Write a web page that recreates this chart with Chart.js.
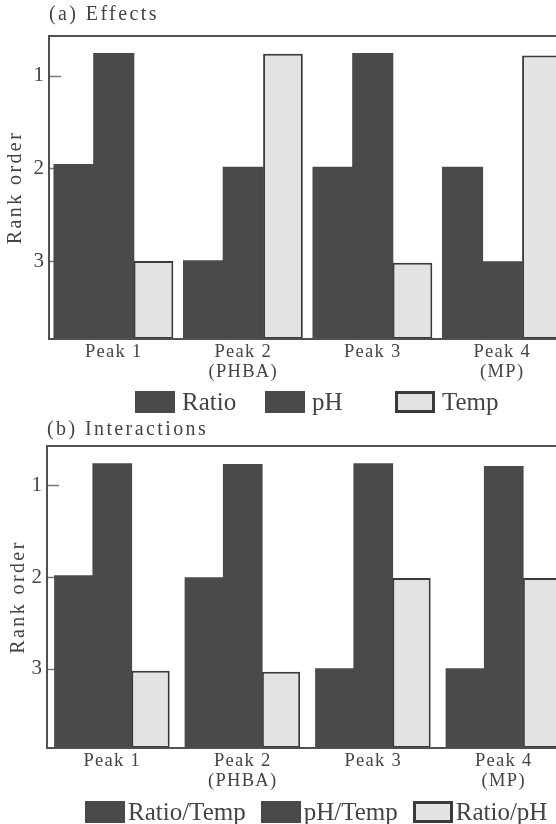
<!DOCTYPE html>
<html>
<head>
<meta charset="utf-8">
<script src="https://cdn.jsdelivr.net/npm/chart.js@4"></script>
<style>
  html, body { margin: 0; padding: 0; background: #fff; width: 556px; height: 824px; overflow: hidden; }
  .panel { position: absolute; left: 0; width: 600px; height: 412px; }
  #panelA { top: 0; }
  #panelB { top: 412px; }
  .panel canvas { position: absolute; left: 0; top: 0; }
  .legend { position: absolute; display: flex; align-items: center; white-space: nowrap;
            font-family: "Liberation Serif", "DejaVu Serif", serif; font-size: 25px; color: #444444; }
  .legend .item { display: flex; align-items: center; }
  .legend .swatch { width: 40px; height: 22px; box-sizing: border-box; flex: none; }
</style>
</head>
<body>
<div class="panel" id="panelA">
  <canvas id="chartA" width="600" height="412"></canvas>
  <div class="legend" id="legendA" style="left:135px; top:388px;"></div>
</div>
<div class="panel" id="panelB">
  <canvas id="chartB" width="600" height="412"></canvas>
  <div class="legend" id="legendB" style="left:85px; top:386px;"></div>
</div>
<script>
// ---- data ----
const peaks = ['Peak 1', ['Peak 2', '(PHBA)'], 'Peak 3', ['Peak 4', '(MP)']];
const rankTicks = [1, 2, 3];

const effectLabels = ['Ratio', 'pH', 'Temp'];
const effectRatio = [1.96, 3.0, 1.99, 1.99];
const effectPH    = [0.76, 1.99, 0.76, 3.01];
const effectTemp  = [3.0, 0.76, 3.02, 0.78];

const interactionLabels = ['Ratio/Temp', 'pH/Temp', 'Ratio/pH'];
const interRatioTemp = [1.99, 2.01, 3.0, 3.0];
const interPHTemp    = [0.77, 0.78, 0.77, 0.80];
const interRatioPH   = [3.02, 3.03, 2.01, 2.01];

// ---- styling ----
const SERIF = '"Liberation Serif", "DejaVu Serif", serif';
const DARK = '#4a4a4a';
const LIGHT = '#e3e3e3';
const EDGE = '#3a3a3a';
const INK = '#444444';
const FRAME = '#505050';

// letter spacing per font size (px) used by the typeset labels
function spacingFor(font) {
  const m = /([\d.]+)px/.exec(font || '');
  const size = m ? parseFloat(m[1]) : 12;
  if (size === 20) return '2.4px';
  if (size === 18.5) return '1.3px';
  return '0px';
}

const typesetPlugin = {
  id: 'typeset',
  beforeInit(chart) {
    const ctx = chart.ctx;
    if (ctx.__typeset) return;
    ctx.__typeset = true;
    const fill = ctx.fillText;
    const measure = ctx.measureText;
    ctx.fillText = function (t, x, y, w) {
      this.letterSpacing = spacingFor(this.font);
      return w === undefined ? fill.call(this, t, x, y) : fill.call(this, t, x, y, w);
    };
    ctx.measureText = function (t) {
      this.letterSpacing = spacingFor(this.font);
      return measure.call(this, t);
    };
  }
};

// inward tick marks under the bars, and the box around the plot
const framePlugin = {
  id: 'frame',
  beforeDatasetsDraw(chart) {
    const { ctx, chartArea, scales } = chart;
    ctx.save();
    ctx.strokeStyle = '#777';
    ctx.lineWidth = 1.5;
    scales.y.ticks.forEach(t => {
      const y = Math.round(scales.y.getPixelForValue(t.value)) + 0.5;
      ctx.beginPath();
      ctx.moveTo(chartArea.left, y);
      ctx.lineTo(chartArea.left + 12, y);
      ctx.stroke();
    });
    ctx.restore();
  },
  afterDatasetsDraw(chart) {
    const { ctx, chartArea } = chart;
    ctx.save();
    ctx.strokeStyle = FRAME;
    ctx.lineWidth = 2;
    ctx.strokeRect(chartArea.left, chartArea.top, chartArea.right - chartArea.left, chartArea.bottom - chartArea.top);
    ctx.restore();
  }
};

function makePanel(canvasId, legendId, cfg) {
  const datasets = cfg.series.map((data, i) => {
    const light = i === cfg.series.length - 1;
    return {
      label: cfg.labels[i],
      data: data,
      backgroundColor: light ? LIGHT : DARK,
      borderColor: EDGE,
      borderWidth: light ? 2 : 0,
      borderSkipped: false,
      inflateAmount: light ? 0 : 0.7,
      base: cfg.yMax,
      categoryPercentage: cfg.catPct,
      barPercentage: 1.0
    };
  });

  const chart = new Chart(document.getElementById(canvasId), {
    type: 'bar',
    data: { labels: peaks, datasets },
    plugins: [typesetPlugin, framePlugin],
    options: {
      responsive: false,
      animation: false,
      events: [],
      layout: { padding: { left: 0, right: cfg.padRight, top: 0, bottom: 0 } },
      scales: {
        x: {
          grid: { display: false, drawTicks: false },
          border: { display: false },
          ticks: { color: INK, font: { family: SERIF, size: 18.5, lineHeight: 1.08 }, padding: 3,
                   maxRotation: 0, autoSkip: false },
          afterFit: s => { s.height = cfg.xAxisHeight; }
        },
        y: {
          reverse: true,
          min: cfg.yMin,
          max: cfg.yMax,
          grid: { display: false, drawTicks: false },
          border: { display: false },
          afterBuildTicks: s => { s.ticks = rankTicks.map(v => ({ value: v })); },
          afterFit: s => { s.width = cfg.axisWidth; },
          ticks: { color: INK, font: { family: SERIF, size: 21 }, padding: 5 },
          title: { display: true, text: 'Rank order', color: INK,
                   font: { family: SERIF, size: 20, lineHeight: 1.2 },
                   padding: { top: cfg.yTitlePad, bottom: 0 } }
        }
      },
      plugins: {
        legend: { display: false },
        tooltip: { enabled: false },
        title: {
          display: true, text: cfg.title, align: 'start', fullSize: false, color: INK,
          font: { family: SERIF, size: 20, weight: 'normal', lineHeight: 1.2 },
          padding: { top: cfg.titlePad[0], bottom: cfg.titlePad[1] }
        }
      }
    }
  });

  // legend built from the chart's datasets
  const box = document.getElementById(legendId);
  chart.data.datasets.forEach((ds, i) => {
    const item = document.createElement('div');
    item.className = 'item';
    if (cfg.legendItemWidth && i < chart.data.datasets.length - 1) item.style.width = cfg.legendItemWidth + 'px';
    if (cfg.legendGap && i < chart.data.datasets.length - 1) item.style.marginRight = cfg.legendGap + 'px';
    const sw = document.createElement('span');
    sw.className = 'swatch';
    sw.style.background = ds.backgroundColor;
    if (ds.borderWidth) sw.style.border = '3px solid ' + EDGE;
    const tx = document.createElement('span');
    tx.textContent = ds.label;
    tx.style.marginLeft = cfg.legendTextGap + 'px';
    item.appendChild(sw);
    item.appendChild(tx);
    box.appendChild(item);
  });
  return chart;
}

makePanel('chartA', 'legendA', {
  title: '(a) Effects',
  labels: effectLabels,
  series: [effectRatio, effectPH, effectTemp],
  yMin: 0.568, yMax: 3.843,
  axisWidth: 49, padRight: 33, xAxisHeight: 73,
  titlePad: [3, 9], yTitlePad: 4,
  catPct: 0.92,
  legendItemWidth: 130, legendGap: 0, legendTextGap: 7
});

makePanel('chartB', 'legendB', {
  title: '(b) Interactions',
  labels: interactionLabels,
  series: [interRatioTemp, interPHTemp, interRatioPH],
  yMin: 0.576, yMax: 3.859,
  axisWidth: 47, padRight: 31, xAxisHeight: 76,
  titlePad: [6, 4], yTitlePad: 7,
  catPct: 0.88,
  legendItemWidth: 0, legendGap: 15, legendTextGap: 3
});
</script>
</body>
</html>
